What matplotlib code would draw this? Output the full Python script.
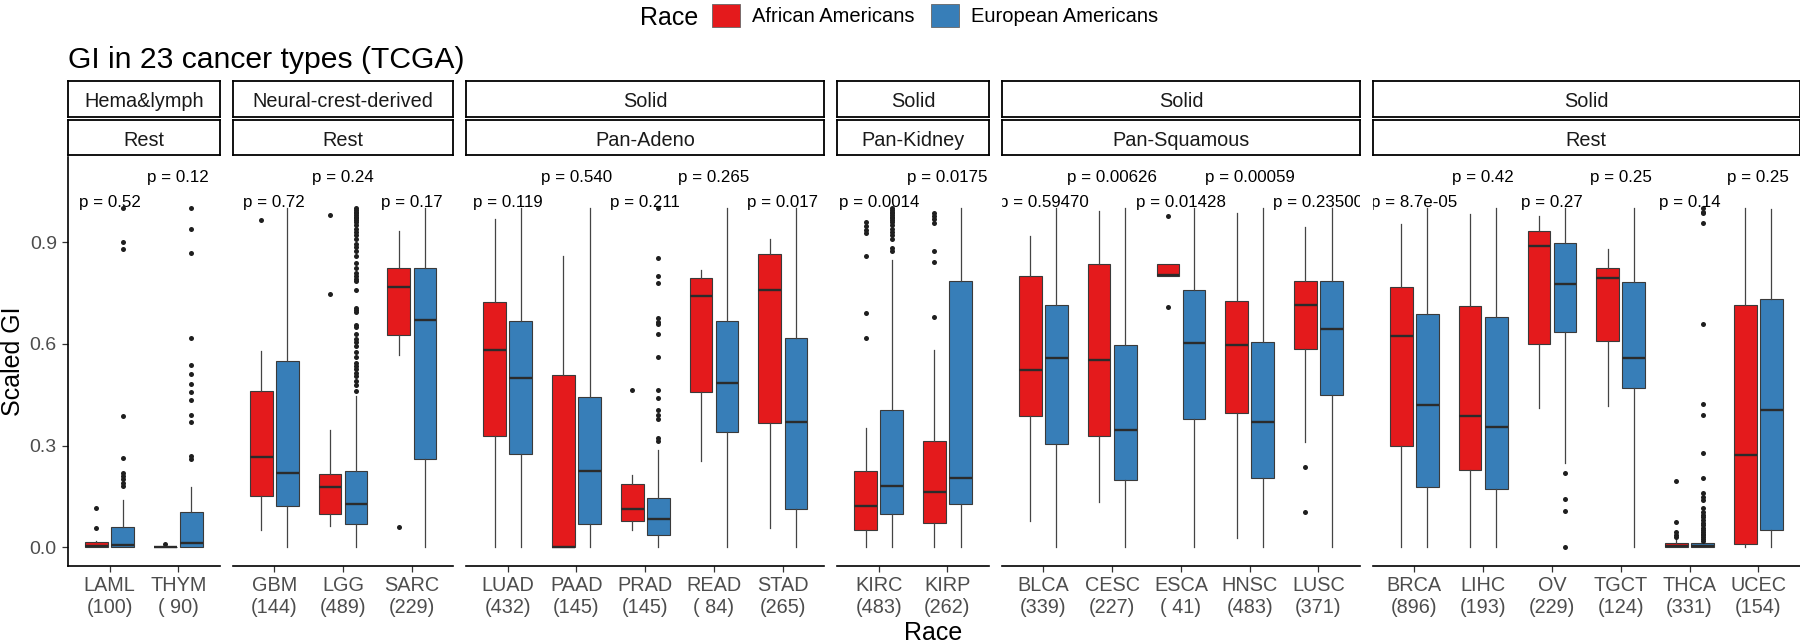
import matplotlib
matplotlib.use("Agg")
import matplotlib.pyplot as plt
from matplotlib.patches import Patch

plt.rcParams['font.family'] = ['Liberation Sans', 'DejaVu Sans']

# ---------------- data ----------------
strip_top = ['Hema&lymph', 'Neural-crest-derived', 'Solid', 'Solid', 'Solid', 'Solid']
strip_sub = ['Rest', 'Rest', 'Pan-Adeno', 'Pan-Kidney', 'Pan-Squamous', 'Rest']
panel_sizes = [2, 3, 5, 2, 5, 6]

cancers = ['LAML', 'THYM', 'GBM', 'LGG', 'SARC', 'LUAD', 'PAAD', 'PRAD', 'READ', 'STAD',
           'KIRC', 'KIRP', 'BLCA', 'CESC', 'ESCA', 'HNSC', 'LUSC',
           'BRCA', 'LIHC', 'OV', 'TGCT', 'THCA', 'UCEC']
n_samples = [100, 90, 144, 489, 229, 432, 145, 145, 84, 265,
             483, 262, 339, 227, 41, 483, 371,
             896, 193, 229, 124, 331, 154]
p_values = ['0.52', '0.12', '0.72', '0.24', '0.17', '0.119', '0.540', '0.211', '0.265', '0.017',
            '0.0014', '0.0175', '0.59470', '0.00626', '0.01428', '0.00059', '0.23500',
            '8.7e-05', '0.42', '0.27', '0.25', '0.14', '0.25']
p_row = [0, 1, 0, 1, 0, 0, 1, 0, 1, 0, 0, 1, 0, 1, 0, 1, 0, 0, 1, 0, 1, 0, 1]
p_label_y = [1.005, 1.078]

races = ['African Americans', 'European Americans']
race_colors = ['#E41A1C', '#377EB8']

# box statistics: whisker low, Q1, median, Q3, whisker high
aa_lo = [0, 0, 0.052, 0.062, 0.566, 0, 0, 0.052, 0.256, 0.057,
         0, 0, 0.077, 0.134, 0.801, 0.028, 0.311,
         0, 0, 0.411, 0.416, 0, 0]
aa_q1 = [0, 0, 0.152, 0.099, 0.627, 0.327, 0, 0.077, 0.458, 0.367,
         0.052, 0.072, 0.388, 0.329, 0.801, 0.396, 0.586,
         0.298, 0.227, 0.599, 0.608, 0, 0.010]
aa_med = [0.004, 0, 0.265, 0.177, 0.767, 0.581, 0.001, 0.114, 0.740, 0.760,
          0.122, 0.163, 0.522, 0.552, 0.802, 0.598, 0.716,
          0.624, 0.386, 0.890, 0.794, 0.004, 0.272]
aa_q3 = [0.015, 0, 0.460, 0.217, 0.823, 0.723, 0.509, 0.188, 0.795, 0.865,
         0.226, 0.313, 0.801, 0.837, 0.836, 0.726, 0.785,
         0.767, 0.712, 0.932, 0.823, 0.012, 0.714]
aa_hi = [0.020, 0, 0.580, 0.347, 0.932, 0.969, 0.858, 0.214, 0.819, 0.910,
         0.352, 0.581, 0.917, 0.991, 0.836, 0.986, 0.944,
         0.954, 0.984, 0.978, 0.881, 0.022, 1.0]
aa_out = {
    'LAML': [0.056, 0.116],
    'THYM': [0.010],
    'GBM': [0.964],
    'LGG': [0.747, 0.981],
    'SARC': [0.061],
    'PRAD': [0.463],
    'KIRC': [0.617, 0.690, 0.858, 0.927, 0.937, 0.947, 0.959],
    'KIRP': [0.680, 0.843, 0.875, 0.957, 0.967, 0.977, 0.986],
    'ESCA': [0.710, 0.976],
    'LUSC': [0.105, 0.238],
    'THCA': [0.030, 0.036, 0.046, 0.074, 0.196],
}

ea_lo = [0, 0, 0, 0, 0, 0, 0, 0, 0, 0,
         0, 0, 0, 0, 0, 0, 0,
         0, 0, 0.248, 0, 0, 0]
ea_q1 = [0, 0, 0.123, 0.069, 0.259, 0.275, 0.068, 0.036, 0.340, 0.112,
         0.099, 0.129, 0.304, 0.198, 0.377, 0.203, 0.448,
         0.178, 0.171, 0.634, 0.469, 0, 0.051]
ea_med = [0.006, 0.013, 0.218, 0.129, 0.670, 0.499, 0.225, 0.082, 0.484, 0.370,
          0.180, 0.204, 0.557, 0.347, 0.603, 0.371, 0.644,
          0.419, 0.354, 0.776, 0.558, 0.004, 0.404]
ea_q3 = [0.061, 0.104, 0.549, 0.226, 0.824, 0.669, 0.443, 0.146, 0.669, 0.617,
         0.404, 0.787, 0.714, 0.598, 0.758, 0.606, 0.787,
         0.688, 0.678, 0.897, 0.783, 0.012, 0.731]
ea_hi = [0.139, 0.178, 1.0, 0.445, 1.0, 1.0, 1.0, 0.287, 1.0, 1.0,
         0.846, 1.0, 1.0, 1.0, 1.0, 1.0, 1.0,
         1.0, 1.0, 1.0, 1.0, 0.018, 0.997]
ea_out = {
    'LAML': [0.18, 0.19, 0.20, 0.21, 0.22, 0.263, 0.386, 0.88, 0.90, 1.0],
    'THYM': [0.26, 0.27, 0.37, 0.39, 0.434, 0.458, 0.483, 0.512, 0.539, 0.618, 0.868, 0.94, 1.0],
    'LGG': [0.46, 0.48, 0.49, 0.505, 0.515, 0.525, 0.535, 0.545, 0.56, 0.575, 0.595, 0.605,
            0.615, 0.63, 0.65, 0.655, 0.695, 0.70, 0.705, 0.76, 0.785, 0.79, 0.80, 0.81, 0.825,
            0.84, 0.86, 0.875, 0.885, 0.895, 0.91, 0.92, 0.93, 0.94, 0.95, 0.96, 0.965, 0.97,
            0.975, 0.98, 0.985, 0.99, 0.995, 1.0],
    'PRAD': [0.313, 0.322, 0.377, 0.391, 0.404, 0.44, 0.463, 0.561, 0.629, 0.66, 0.665,
             0.676, 0.78, 0.80, 0.853, 1.0],
    'KIRC': [0.873, 0.883, 0.91, 0.92, 0.93, 0.94, 0.95, 0.96, 0.965, 0.97, 0.975, 0.98,
             0.985, 0.99, 0.995, 1.0],
    'OV': [0.0, 0.108, 0.142, 0.22],
    'THCA': [0.02, 0.025, 0.03, 0.035, 0.04, 0.046, 0.052, 0.058, 0.065, 0.072, 0.08, 0.088,
             0.095, 0.105, 0.115, 0.14, 0.149, 0.159, 0.203, 0.278, 0.391, 0.424, 0.659,
             0.957, 0.985, 0.99, 1.0],
}

# ---------------- layout (pixels) ----------------
W, H = 1800, 643
fig = plt.figure(figsize=(W / 100, H / 100), dpi=100)
fig.patch.set_facecolor('white')

left_px = 68.3
unit_px = 68.77
gap_px = 13.4
pad = 0.6
panel_top_px, panel_bot_px = 156.7, 566.0
strip1 = (81.0, 116.7)
strip2 = (120.0, 155.0)
ylim = (-0.0552, 1.1522)
dodge = 0.19
box_w = 0.33


def rect(x0, y0, w, h):
    return [x0 / W, 1 - (y0 + h) / H, w / W, h / H]


def strip_axes(x0, w, ytop, ybot, label):
    sa = fig.add_axes(rect(x0, ytop, w, ybot - ytop))
    sa.set_xticks([])
    sa.set_yticks([])
    sa.set_facecolor('white')
    for s in sa.spines.values():
        s.set_linewidth(1.3)
        s.set_color('black')
    sa.text(0.5, 0.27, label, ha='center', va='baseline', fontsize=14.3,
            color='#1A1A1A', transform=sa.transAxes)


race_stats = [
    (aa_lo, aa_q1, aa_med, aa_q3, aa_hi, aa_out),
    (ea_lo, ea_q1, ea_med, ea_q3, ea_hi, ea_out),
]

x_cur = left_px
start = 0
for pi, n in enumerate(panel_sizes):
    w_px = (n - 1 + 2 * pad) * unit_px
    ax = fig.add_axes(rect(x_cur, panel_top_px, w_px, panel_bot_px - panel_top_px))
    idx = list(range(start, start + n))
    names = [cancers[i] for i in idx]

    for ri, (lo, q1, med, q3, hi, out) in enumerate(race_stats):
        stats = []
        for i in idx:
            stats.append(dict(whislo=lo[i], q1=q1[i], med=med[i], q3=q3[i], whishi=hi[i],
                              fliers=out.get(cancers[i], [])))
        off = -dodge if ri == 0 else dodge
        ax.bxp(stats, positions=[k + off for k in range(n)], widths=box_w,
               patch_artist=True, showcaps=False,
               boxprops=dict(facecolor=race_colors[ri], edgecolor='#3a3a3a', linewidth=0.8),
               medianprops=dict(color='#2b2b2b', linewidth=1.7, solid_capstyle='butt'),
               whiskerprops=dict(color='#444444', linewidth=0.9),
               flierprops=dict(marker='o', markersize=3.6, markerfacecolor='#1f1f1f',
                               markeredgecolor='none'))

    for k, i in enumerate(idx):
        ax.text(k, p_label_y[p_row[i]], 'p = ' + p_values[i], ha='center', va='baseline',
                fontsize=12.2, color='black', clip_on=True)

    ax.set_xlim(-pad, n - 1 + pad)
    ax.set_ylim(*ylim)
    ax.set_xticks(range(n))
    ax.set_xticklabels([f'{cancers[i]}\n({n_samples[i]:3d})' for i in idx],
                       linespacing=1.25)
    ax.tick_params(axis='x', length=4, width=0.9, color='#333333', pad=3,
                   labelsize=14.3, labelcolor='#4D4D4D')
    for s in ['top', 'right']:
        ax.spines[s].set_visible(False)
    ax.spines['bottom'].set_linewidth(1.2)
    ax.spines['bottom'].set_color('black')
    if pi == 0:
        ax.spines['left'].set_linewidth(1.2)
        ax.spines['left'].set_color('black')
        ax.set_yticks([0.0, 0.3, 0.6, 0.9])
        ax.set_yticklabels(['0.0', '0.3', '0.6', '0.9'])
        ax.tick_params(axis='y', length=4.3, width=0.9, color='#333333', pad=4,
                       labelsize=14, labelcolor='#4D4D4D')
    else:
        ax.spines['left'].set_visible(False)
        ax.set_yticks([])

    strip_axes(x_cur, w_px, strip1[0], strip1[1], strip_top[pi])
    strip_axes(x_cur, w_px, strip2[0], strip2[1], strip_sub[pi])

    x_cur += w_px + gap_px
    start += n

# titles
fig.text(67.7 / W, 1 - 67.7 / H, 'GI in 23 cancer types (TCGA)', ha='left', va='baseline',
         fontsize=21.7, color='black')
fig.text(13 / W, 1 - 361.5 / H, 'Scaled GI', rotation=90, ha='center', va='center',
         fontsize=18, color='black')
fig.text(933.5 / W, 1 - 640 / H, 'Race', ha='center', va='baseline', fontsize=18,
         color='black')

# legend
fig.text(640 / W, 1 - 25 / H, 'Race', ha='left', va='baseline', fontsize=18, color='black')
handles = [Patch(facecolor=c, edgecolor='#666666', linewidth=0.6) for c in race_colors]
fig.legend(handles, races, ncol=2, frameon=False, loc='center left',
           bbox_to_anchor=(712 / W, 1 - 15.5 / H), fontsize=14.5,
           handlelength=1.39, handleheight=1.39, handletextpad=0.6,
           columnspacing=0.83, borderpad=0, borderaxespad=0)

fig.savefig('out.png', dpi=100, facecolor='white')
